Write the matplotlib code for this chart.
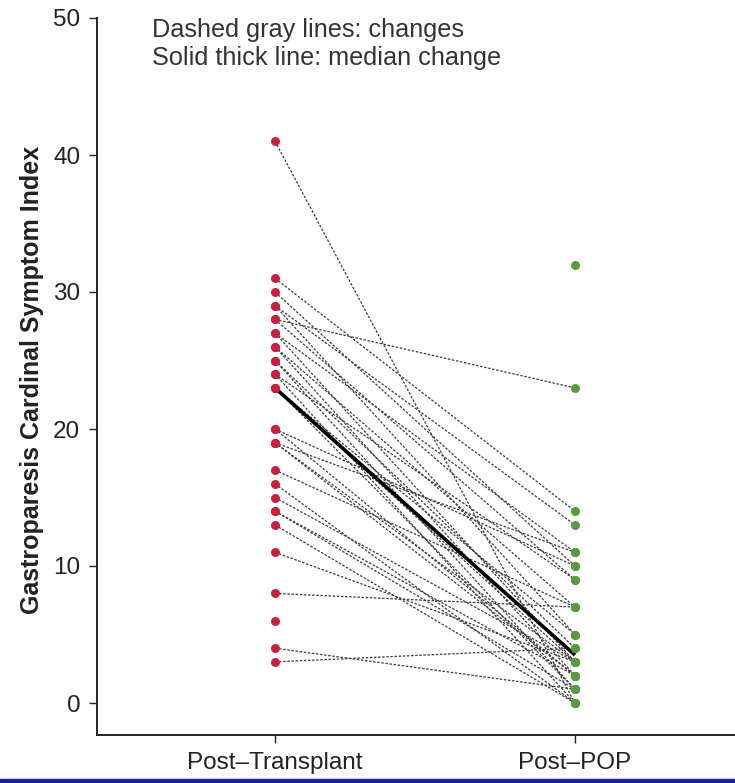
import numpy as np
import matplotlib
matplotlib.use("Agg")
import matplotlib.pyplot as plt
from matplotlib.patches import Rectangle

plt.rcParams['font.family'] = ['Liberation Sans', 'DejaVu Sans']

categories = ["Post\u2013Transplant", "Post\u2013POP"]
pre = [41, 31, 30, 29, 29, 28, 28, 27, 27, 26, 26, 25, 25, 24, 24, 23, 23, 23,
       20, 20, 19, 19, 19, 17, 16, 15, 14, 14, 13, 11, 8, 4, 3, 6, np.nan]
post = [0, 14, 10, 13, 5, 23, 9, 11, 3, 7, 2, 4, 1, 9, 0, 3, 5, 1,
        10, 2, 11, 3, 2, 7, 0, 3, 2, 1, 0, 3, 7, 1, 4, np.nan, 32]
yticks = [0, 10, 20, 30, 40, 50]
notes = ["Dashed gray lines: changes", "Solid thick line: median change"]

pre = np.array(pre, dtype=float)
post = np.array(post, dtype=float)

fig = plt.figure(figsize=(7.35, 7.83), dpi=100)
ax = fig.add_axes([97/735, 48/783, 1 - 97/735, (735-18)/783])

x1, x2 = 1, 2
for a, b in zip(pre, post):
    if not (np.isnan(a) or np.isnan(b)):
        ax.plot([x1, x2], [a, b], color='#3a3a3a', lw=0.9, dashes=(2.0, 1.3), zorder=2)

ax.plot([x1, x2], [np.nanmedian(pre), np.nanmedian(post)], color='black', lw=2.6, zorder=3,
        solid_capstyle='butt')

m = ~np.isnan(pre)
ax.scatter(np.full(m.sum(), x1), pre[m], s=42, color='#C8203F', zorder=4, linewidths=0)
m = ~np.isnan(post)
ax.scatter(np.full(m.sum(), x2), post[m], s=42, color='#5A9A3E', zorder=4, linewidths=0)

ax.set_xlim(1 - 178/300, 2 + 160/300)
ax.set_ylim(-32/13.7, 50)
ax.set_yticks(yticks)
ax.set_xticks([x1, x2])
ax.set_xticklabels(categories)
ax.tick_params(axis='both', labelsize=17.5, length=6, width=1.0, colors='#222222')
ax.tick_params(axis='y', pad=6)
ax.tick_params(axis='x', pad=6)
for s in ['top', 'right']:
    ax.spines[s].set_visible(False)
for s in ['left', 'bottom']:
    ax.spines[s].set_linewidth(1.4)
    ax.spines[s].set_color('#222222')

ax.set_ylabel("Gastroparesis Cardinal Symptom Index", fontsize=18, fontweight='bold',
              color='#222222', va='center')
ax.yaxis.set_label_coords(32/735, (783-380)/783, transform=fig.transFigure)

for i, t in enumerate(notes):
    ax.text(152/735, (783-30-28*i)/783, t, transform=fig.transFigure, fontsize=18.2,
            color='#333333', va='center', ha='left')

fig.patches.append(Rectangle((0, 0), 1, 4/783, transform=fig.transFigure,
                             color='#1c1c9a', zorder=10))

fig.savefig("out.png", dpi=100)
